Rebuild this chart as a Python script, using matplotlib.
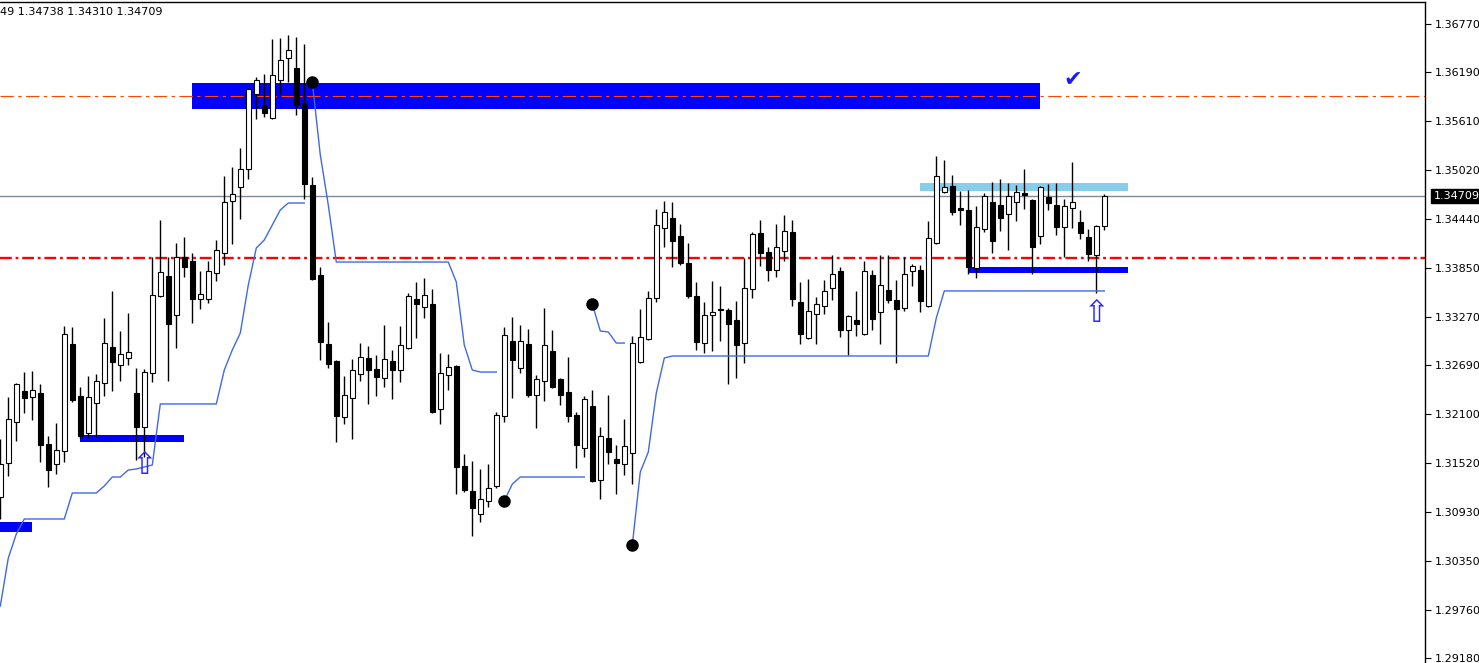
import matplotlib.pyplot as plt
from matplotlib.patches import Rectangle

# candle data (4h bars)
opens = [1.31111, 1.31518, 1.32008, 1.32379, 1.32307, 1.32355, 1.31745, 1.31506, 1.31661, 1.32941,
         1.32319, 1.31877, 1.32236, 1.32475, 1.32906, 1.32690, 1.32774, 1.32355, 1.31948, 1.32594,
         1.33516, 1.33755, 1.33288, 1.33982, 1.33934, 1.33480, 1.33480, 1.33791, 1.34030, 1.34652,
         1.34820, 1.35035, 1.35932, 1.35801, 1.35645, 1.36100, 1.36363, 1.36243, 1.35825, 1.34844,
         1.33767, 1.32941, 1.32738, 1.32068, 1.32295, 1.32583, 1.32774, 1.32642, 1.32535, 1.32738,
         1.32630, 1.32894, 1.33480, 1.33384, 1.33420, 1.32164, 1.32570, 1.32678, 1.31482, 1.31183,
         1.30908, 1.31063, 1.31243, 1.32080, 1.32977, 1.32654, 1.32941, 1.32331, 1.32499, 1.32858,
         1.32523, 1.32367, 1.32092, 1.31697, 1.32200, 1.31314, 1.31817, 1.31566, 1.31506, 1.31637,
         1.32726, 1.33001, 1.33492, 1.34329, 1.34449, 1.34234, 1.33911, 1.33516, 1.32953, 1.33288,
         1.33360, 1.33348, 1.33229, 1.32953, 1.33599, 1.34269, 1.34042, 1.33827, 1.34054, 1.34281,
         1.33444, 1.33013, 1.33300, 1.33396, 1.33611, 1.33815, 1.33109, 1.33229, 1.33061, 1.33767,
         1.33324, 1.33587, 1.33468, 1.33372, 1.33815, 1.33827, 1.33396, 1.34150, 1.34760, 1.34832,
         1.34568, 1.34545, 1.33851, 1.34317, 1.34640, 1.34604, 1.34497, 1.34640, 1.34748, 1.34664,
         1.34234, 1.34700, 1.34604, 1.34341, 1.34568, 1.34401, 1.34222, 1.34006, 1.34349]
closes = [1.31506, 1.32044, 1.32463, 1.32295, 1.32391, 1.31733, 1.31434, 1.31673, 1.33061, 1.32271,
          1.31841, 1.32307, 1.32499, 1.32953, 1.32726, 1.32822, 1.32846, 1.31948, 1.32606, 1.33528,
          1.33803, 1.33181, 1.33982, 1.33863, 1.33480, 1.33540, 1.33815, 1.34066, 1.34640, 1.34736,
          1.35035, 1.35992, 1.36100, 1.35705, 1.36160, 1.36339, 1.36459, 1.35801, 1.34856, 1.33719,
          1.32965, 1.32702, 1.32080, 1.32331, 1.32630, 1.32786, 1.32630, 1.32547, 1.32762, 1.32630,
          1.32929, 1.33516, 1.33420, 1.33528, 1.32128, 1.32594, 1.32666, 1.31470, 1.31195, 1.30979,
          1.31087, 1.31219, 1.32092, 1.33049, 1.32750, 1.32977, 1.32331, 1.32523, 1.32929, 1.32427,
          1.32331, 1.32080, 1.31733, 1.32283, 1.31302, 1.31841, 1.31649, 1.31518, 1.31721, 1.32953,
          1.33025, 1.33492, 1.34365, 1.34521, 1.34174, 1.33911, 1.33516, 1.32965, 1.33288, 1.33324,
          1.33348, 1.33181, 1.32929, 1.33611, 1.34257, 1.34030, 1.33827, 1.34102, 1.34293, 1.33480,
          1.33061, 1.33336, 1.33420, 1.33576, 1.33779, 1.33109, 1.33276, 1.33181, 1.33815, 1.33240,
          1.33647, 1.33468, 1.33360, 1.33779, 1.33875, 1.33456, 1.34210, 1.34951, 1.34820, 1.34521,
          1.34545, 1.33863, 1.34341, 1.34712, 1.34174, 1.34449, 1.34712, 1.34760, 1.34724, 1.34102,
          1.34820, 1.34628, 1.34341, 1.34592, 1.34640, 1.34269, 1.34018, 1.34353, 1.34709]
highs = [1.31805, 1.32307, 1.32475, 1.32606, 1.32618, 1.32463, 1.31841, 1.31996, 1.33157, 1.33145,
         1.32427, 1.32559, 1.32583, 1.33252, 1.33576, 1.33097, 1.33312, 1.32654, 1.32642, 1.33982,
         1.34425, 1.33982, 1.34150, 1.34222, 1.34030, 1.33815, 1.33934, 1.34186, 1.34951, 1.35059,
         1.35286, 1.36004, 1.36136, 1.36172, 1.36590, 1.36602, 1.36638, 1.36614, 1.36531, 1.34939,
         1.33863, 1.33205, 1.32750, 1.32559, 1.32762, 1.32953, 1.32918, 1.32810, 1.33169, 1.32870,
         1.33157, 1.33552, 1.33683, 1.33731, 1.33599, 1.32834, 1.32822, 1.32690, 1.31625, 1.31542,
         1.31446, 1.31506, 1.32128, 1.33145, 1.33264, 1.33169, 1.33121, 1.32570, 1.33372, 1.33109,
         1.32535, 1.32786, 1.32128, 1.32319, 1.32391, 1.31948, 1.32331, 1.31733, 1.32044, 1.33037,
         1.33360, 1.33576, 1.34557, 1.34652, 1.34640, 1.34377, 1.34150, 1.33683, 1.33444, 1.33695,
         1.33635, 1.33372, 1.33456, 1.33970, 1.34281, 1.34425, 1.34102, 1.34377, 1.34485, 1.34425,
         1.33683, 1.33719, 1.33504, 1.33707, 1.34006, 1.33863, 1.33288, 1.33576, 1.33934, 1.33827,
         1.34006, 1.34006, 1.33707, 1.33982, 1.33899, 1.33886, 1.34413, 1.35191, 1.35143, 1.34963,
         1.34772, 1.34784, 1.34592, 1.34748, 1.34880, 1.34915, 1.34868, 1.34844, 1.35035, 1.34676,
         1.34832, 1.34856, 1.34868, 1.34676, 1.35119, 1.34545, 1.34317, 1.34365, 1.34738]
lows = [1.30848, 1.31362, 1.31781, 1.32116, 1.32032, 1.31530, 1.31231, 1.31386, 1.31530, 1.32248,
        1.31817, 1.31817, 1.31829, 1.32319, 1.32379, 1.32499, 1.32690, 1.31554, 1.31590, 1.32487,
        1.33504, 1.32499, 1.32894, 1.33743, 1.33193, 1.33360, 1.33432, 1.33695, 1.33886, 1.34138,
        1.34437, 1.34915, 1.35633, 1.35657, 1.35633, 1.35932, 1.36076, 1.35681, 1.34676, 1.33707,
        1.32750, 1.32654, 1.31769, 1.31984, 1.31805, 1.32499, 1.32224, 1.32319, 1.32427, 1.32283,
        1.32487, 1.32882, 1.33013, 1.33252, 1.32116, 1.31984, 1.32391, 1.31147, 1.31171, 1.30644,
        1.30812, 1.30991, 1.31219, 1.32008, 1.32295, 1.32594, 1.32307, 1.31936, 1.32259, 1.32415,
        1.32212, 1.32008, 1.31458, 1.31590, 1.31290, 1.31087, 1.31506, 1.31147, 1.31374, 1.31266,
        1.32714, 1.32989, 1.33444, 1.34102, 1.33863, 1.33886, 1.33492, 1.32870, 1.32834, 1.32858,
        1.32977, 1.32463, 1.32535, 1.32714, 1.33492, 1.33875, 1.33695, 1.33743, 1.33934, 1.33396,
        1.32941, 1.33001, 1.32941, 1.33300, 1.33468, 1.33025, 1.32810, 1.33037, 1.33049, 1.33109,
        1.32941, 1.33432, 1.32714, 1.33336, 1.33635, 1.33324, 1.33384, 1.34138, 1.34748, 1.34485,
        1.34365, 1.33779, 1.33731, 1.34281, 1.34030, 1.34293, 1.34066, 1.34413, 1.34557, 1.33779,
        1.34138, 1.34545, 1.34245, 1.33982, 1.34329, 1.34198, 1.33934, 1.33552, 1.34310]

# trailing line (thin blue), new segment starts at each break index (black dot)
trail = [1.29807, 1.30381, 1.30668, 1.30848, 1.30848, 1.30848, 1.30848, 1.30848, 1.30848, 1.31159,
         1.31159, 1.31159, 1.31159, 1.31243, 1.31350, 1.31350, 1.31434, 1.31446, 1.31470, 1.31494,
         1.32224, 1.32224, 1.32224, 1.32224, 1.32224, 1.32224, 1.32224, 1.32224, 1.32630, 1.32870,
         1.33073, 1.33647, 1.34090, 1.34186, 1.34365, 1.34545, 1.34628, 1.34628, 1.34628, 1.36076,
         1.35203, 1.34604, 1.33922, 1.33922, 1.33922, 1.33922, 1.33922, 1.33922, 1.33922, 1.33922,
         1.33922, 1.33922, 1.33922, 1.33922, 1.33922, 1.33922, 1.33922, 1.33683, 1.32929, 1.32630,
         1.32606, 1.32606, 1.32606, 1.31063, 1.31266, 1.31350, 1.31350, 1.31350, 1.31350, 1.31350,
         1.31350, 1.31350, 1.31350, 1.31350, 1.33420, 1.33097, 1.33085, 1.32953, 1.32953, 1.30537,
         1.31410, 1.31649, 1.32355, 1.32774, 1.32798, 1.32798, 1.32798, 1.32798, 1.32798, 1.32798,
         1.32798, 1.32798, 1.32798, 1.32798, 1.32798, 1.32798, 1.32798, 1.32798, 1.32798, 1.32798,
         1.32798, 1.32798, 1.32798, 1.32798, 1.32798, 1.32798, 1.32798, 1.32798, 1.32798, 1.32798,
         1.32798, 1.32798, 1.32798, 1.32798, 1.32798, 1.32798, 1.32798, 1.33252, 1.33576, 1.33576,
         1.33576, 1.33576, 1.33576, 1.33576, 1.33576, 1.33576, 1.33576, 1.33576, 1.33576, 1.33576,
         1.33576, 1.33576, 1.33576, 1.33576, 1.33576, 1.33576, 1.33576, 1.33576, 1.33576]
trail_breaks = [39, 63, 74, 79]

# zones: start bar, end bar, low, high, colour
zone_x0 = [24, 115, 121, 10, -5]
zone_x1 = [130, 141, 141, 23, 4]
zone_lo = [1.35753, 1.34772, 1.33794, 1.31773, 1.30696]
zone_hi = [1.36064, 1.34871, 1.33866, 1.31853, 1.30815]
zone_col = ['#0000ff', '#87ceeb', '#0000ff', '#0000ff', '#0000ff']

level_mid = 1.35909
level_red = 1.33976
last_price = 1.34709

arrow_bars = [18, 137]
arrow_prices = [1.31482, 1.33312]
check_bar, check_price = 134, 1.36100

tick_prices = [1.36770, 1.36190, 1.35610, 1.35020, 1.34440, 1.33850, 1.33270,
               1.32690, 1.32100, 1.31520, 1.30930, 1.30350, 1.29760, 1.29180]

fig = plt.figure(figsize=(14.79, 6.63), dpi=100)
ax = fig.add_axes([0, 0, 1425 / 1479, 661 / 663])

for x0, x1, lo, hi, c in zip(zone_x0, zone_x1, zone_lo, zone_hi, zone_col):
    ax.add_patch(Rectangle((x0, lo), x1 - x0, hi - lo, color=c, lw=0, zorder=1))

ax.axhline(last_price, color='#7f8a99', lw=1, zorder=1.5)
ax.axhline(level_mid, color='#ff4500', lw=0.8, ls=(0, (12, 4, 3, 4)), zorder=1.6)
ax.axhline(level_red, color='#ff0000', lw=1.7, ls=(0, (5, 1.6, 1.2, 1.6)), zorder=1.6)

# candles
xs = list(range(len(opens)))
ax.vlines(xs, lows, highs, color='black', lw=1, zorder=2)
for i in xs:
    o, c = opens[i], closes[i]
    fc = 'white' if c > o else 'black'
    h = abs(c - o)
    ax.bar(i, max(h, 0.000012), bottom=min(o, c), width=0.6, color=fc,
           edgecolor='black', linewidth=0.8, zorder=3)

# trailing line
starts = [0] + trail_breaks
ends = trail_breaks + [len(trail)]
for s, e in zip(starts, ends):
    ax.plot(range(s, e), trail[s:e], color='#4169e1', lw=1, zorder=4)
ax.plot(trail_breaks, [trail[b] for b in trail_breaks], 'o', color='black',
        markersize=8, zorder=5)

for b, p in zip(arrow_bars, arrow_prices):
    ax.text(b, p, '\u21e7', color='#2a2aff', fontsize=22, ha='center', va='center', zorder=6)
ax.text(check_bar, check_price, '\u2714', color='#1a1aff', fontsize=16,
        ha='center', va='center', zorder=6)

ax.set_xlim(-0.0375, 178.09)
ax.set_ylim(1.29125, 1.37033)
ax.set_xticks([])
ax.yaxis.tick_right()
ax.set_yticks(tick_prices)
ax.set_yticklabels(['%.5f' % t for t in tick_prices])
ax.tick_params(axis='y', length=4, width=0.8, labelsize=8, pad=3)
for s in ['left', 'bottom']:
    ax.spines[s].set_visible(False)
for s in ['top', 'right']:
    ax.spines[s].set_linewidth(1)

ax.annotate('%.5f' % last_price, xy=(1, last_price), xycoords=('axes fraction', 'data'),
            xytext=(6, 0), textcoords='offset points', va='center', ha='left',
            color='white', fontsize=8,
            bbox=dict(boxstyle='square,pad=0.2', fc='black', ec='black'))

fig.text(0.0, 0.982, '49 1.34738 1.34310 1.34709', fontsize=8, va='center', ha='left')

fig.savefig('out.png', dpi=100)
